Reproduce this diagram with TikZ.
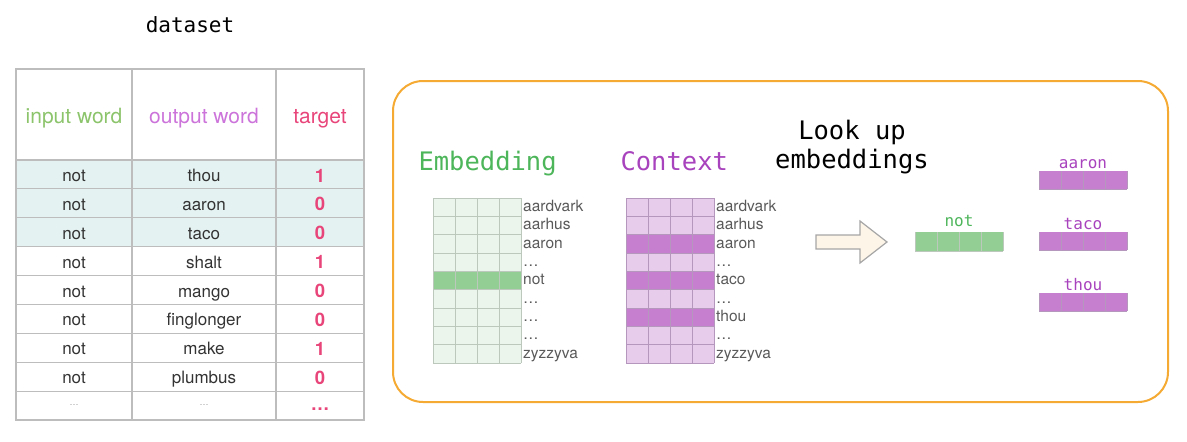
\documentclass[tikz,border=0pt]{standalone}
\usepackage{fontspec}
\setmainfont{TeX Gyre Heros}
\newfontfamily\codefont{DejaVu Sans Mono}
\usetikzlibrary{positioning}

\definecolor{tabgray}{HTML}{BDBDBD}
\definecolor{rowteal}{HTML}{E4F2F1}
\definecolor{inputgreen}{HTML}{8CC46C}
\definecolor{outputviolet}{HTML}{CC74DA}
\definecolor{targetpink}{HTML}{E8457A}
\definecolor{embgreen}{HTML}{4DB55A}
\definecolor{embpale}{HTML}{ECF5EC}
\definecolor{embdark}{HTML}{93CE95}
\definecolor{embline}{HTML}{BCC8BC}
\definecolor{ctxviolet}{HTML}{A843BD}
\definecolor{ctxpale}{HTML}{E7CDEB}
\definecolor{ctxdark}{HTML}{C67FCF}
\definecolor{ctxline}{HTML}{B596BC}
\definecolor{boxorange}{HTML}{F5AA33}
\definecolor{arrowfill}{HTML}{FDF5E8}

\tikzset{
  tabline/.style={draw=tabgray, line width=1.2pt},
  hdr/.style={font=\fontsize{21}{24}\selectfont, text height=0.72em, text depth=0.22em},
  cell/.style={text=black!80, font=\fontsize{17}{20}\selectfont, text height=0.72em, text depth=0.22em},
  targetcell/.style={text=targetpink, font=\fontsize{18.5}{21}\selectfont\bfseries, text height=0.72em, text depth=0.22em},
  wordlabel/.style={anchor=west, inner sep=1pt, text=black!65, font=\fontsize{15.5}{18}\selectfont, text height=0.72em, text depth=0.22em},
  codetitle/.style={font=\codefont\fontsize{25.5}{30}\selectfont, text height=0.75em, text depth=0.22em},
  veclabel/.style={font=\codefont\fontsize{16}{19}\selectfont, text height=0.75em, text depth=0.22em},
}

\begin{document}
\begin{tikzpicture}[x=1pt,y=-1pt]
  \useasboundingbox (0,0) rectangle (1187,442);

  % Title of the table
  \node (title) at (190,25) {\codefont\fontsize{21}{24}\selectfont dataset};

  % Shading of the first three rows
  \fill[rowteal] (16,160) rectangle (364,246.7);

  % Drawing the table grid
  \draw[tabline] (16,69) rectangle (364,420);
  \draw[tabline] (16,160) -- (364,160);
  \foreach \i in {1,...,8}
    \draw[tabline] (16,{160+28.89*\i}) -- (364,{160+28.89*\i});
  \draw[tabline] (132,69) -- (132,420);
  \draw[tabline] (276,69) -- (276,420);

  % Header of the table
  \node[hdr, text=inputgreen] (hin) at (74,121) {input word};
  \node[hdr, text=outputviolet] (hout) at (204,121) {output word};
  \node[hdr, text=targetpink] (htarget) at (320,121) {target};

  % Rows of the table
  \foreach \w/\t [count=\i] in {thou/1, aaron/0, taco/0, shalt/1, mango/0, finglonger/0, make/1, plumbus/0} {
    \node[cell] (in\i) at (74,{179+28.89*(\i-1)}) {not};
    \node[cell] (out\i) at (204,{179+28.89*(\i-1)}) {\w};
    \node[targetcell] (tg\i) at (320,{179.5+28.89*(\i-1)}) {\t};
  }
  \node[text=black!40, font=\fontsize{9}{10}\selectfont] (in9) at (74,405) {\dots};
  \node[text=black!40, font=\fontsize{9}{10}\selectfont] (out9) at (204,405) {\dots};
  \node[targetcell] (tg9) at (320,408) {\dots};

  % Orange frame of the lookup
  \draw[boxorange, line width=2pt, rounded corners=30pt] (393,81) rectangle (1168,402);

  % Matrix titles
  \node[codetitle, text=embgreen, anchor=west] (embtitle) at (415,168) {Embedding};
  \node[codetitle, text=ctxviolet, anchor=west] (ctxtitle) at (617,168) {Context};
  \node[font=\codefont\fontsize{25.5}{29}\selectfont, align=center] (lookup) at (852,147) {Look up\\embeddings};

  % Embedding matrix
  \foreach \r in {0,...,8} {
    \ifnum\r=4 \def\rc{embdark}\else\def\rc{embpale}\fi
    \fill[\rc] (433,{198+18.33*\r}) rectangle (521,{198+18.33*(\r+1)});
  }
  \foreach \r in {0,...,9}
    \draw[embline, line width=0.8pt] (433,{198+18.33*\r}) -- (521,{198+18.33*\r});
  \foreach \c in {0,...,4}
    \draw[embline, line width=0.8pt] ({433+22*\c},198) -- ({433+22*\c},363);
  \foreach \w [count=\i] in {aardvark, aarhus, aaron, \dots, not, \dots, \dots, \dots, zyzzyva}
    \node[wordlabel] (emb\i) at (522,{209+18.33*(\i-1)}) {\w};

  % Context matrix
  \foreach \r in {0,...,8} {
    \def\rc{ctxpale}
    \ifnum\r=2 \def\rc{ctxdark}\fi
    \ifnum\r=4 \def\rc{ctxdark}\fi
    \ifnum\r=6 \def\rc{ctxdark}\fi
    \fill[\rc] (626,{198+18.33*\r}) rectangle (714,{198+18.33*(\r+1)});
  }
  \foreach \r in {0,...,9}
    \draw[ctxline, line width=0.8pt] (626,{198+18.33*\r}) -- (714,{198+18.33*\r});
  \foreach \c in {0,...,4}
    \draw[ctxline, line width=0.8pt] ({626+22*\c},198) -- ({626+22*\c},363);
  \foreach \w [count=\i] in {aardvark, aarhus, aaron, \dots, taco, \dots, thou, \dots, zyzzyva}
    \node[wordlabel] (ctx\i) at (715,{209+18.33*(\i-1)}) {\w};

  % Lookup arrow
  \draw[fill=arrowfill, draw=black!35, line width=1.2pt, line join=miter]
    (816,235) -- (860,235) -- (860,221) -- (887,242) -- (860,263) -- (860,249) -- (816,249) -- cycle;

  % Looked up vector of not
  \node[veclabel, text=embgreen] (vnot) at (959,224) {not};
  \fill[embdark] (915,232) rectangle (1003,251);
  \foreach \c in {0,...,4}
    \draw[embline, line width=0.8pt] ({915+22*\c},232) -- ({915+22*\c},251);
  \draw[embline, line width=0.8pt] (915,251) -- (1003,251);

  % Looked up context vectors
  \foreach \w/\y in {aaron/171, taco/232, thou/293} {
    \node[veclabel, text=ctxviolet] (v\w) at (1083,{\y-5}) {\w};
    \fill[ctxdark] (1039,\y) rectangle (1127,{\y+18});
    \foreach \c in {0,...,4}
      \draw[ctxline, line width=0.8pt] ({1039+22*\c},\y) -- ({1039+22*\c},{\y+18});
    \draw[ctxline, line width=0.8pt] (1039,{\y+18}) -- (1127,{\y+18});
  }
\end{tikzpicture}
\end{document}
